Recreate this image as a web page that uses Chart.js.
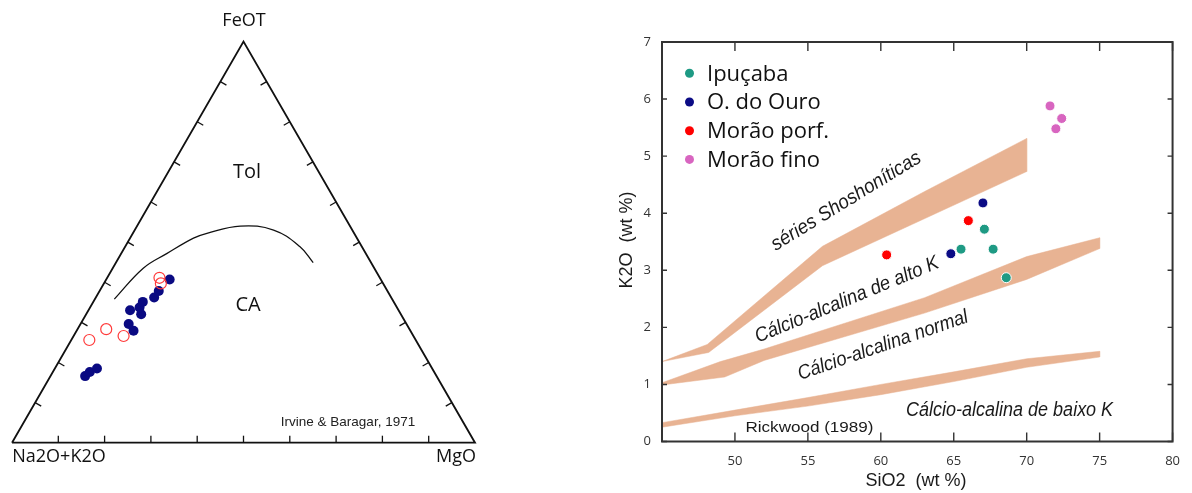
<!DOCTYPE html>
<html>
<head>
<meta charset="utf-8">
<script src="https://cdn.jsdelivr.net/npm/chart.js@4.4.0/dist/chart.umd.min.js"></script>
<style>
  html, body { margin: 0; padding: 0; background: #fff; }
  body { width: 1192px; height: 493px; position: relative; overflow: hidden; }
  #afm { position: absolute; left: 0; top: 0; }
  #harker { position: absolute; left: 600px; top: 0; }
</style>
</head>
<body>
<canvas id="afm" width="600" height="493"></canvas>
<canvas id="harker" width="592" height="493"></canvas>
<script>
// ---- Diagrama AFM (Irvine & Baragar, 1971) - valores em % ----
// A = Na2O+K2O, F = FeOT, M = MgO
const afmOuroA = [75.9, 74.4, 72.4, 59.8, 60.0, 56.1, 55.6, 54.2, 58.0, 51.2, 49.4, 45.6];
const afmOuroF = [16.6, 17.6, 18.5, 27.9, 29.6, 32.0, 33.7, 35.1, 33.0, 36.2, 37.8, 40.7];
const afmOuroM = [7.5, 8.0, 9.1, 12.3, 10.4, 11.9, 10.7, 10.7, 9.0, 12.6, 12.8, 13.7];

const afmMoraoA = [70.5, 65.5, 62.6, 47.6, 48.0];
const afmMoraoF = [25.6, 28.3, 26.6, 41.1, 39.7];
const afmMoraoM = [3.9, 6.2, 10.8, 11.3, 12.3];

// curva toleítica / cálcio-alcalina
const curvaA = [60.0, 49.9, 42.9, 35.3, 31.8, 23.7, 17.0, 13.4, 12.5];
const curvaF = [35.8, 43.5, 47.2, 51.0, 52.2, 54.0, 53.0, 48.9, 44.9];
const curvaM = [4.2, 6.6, 9.9, 13.7, 16.0, 22.3, 30.0, 37.7, 42.6];

// vértices do triângulo e marcas
const trianguloA = [100, 0, 0, 100];
const trianguloF = [0, 0, 100, 0];
const trianguloM = [0, 100, 0, 0];
const marcasTernario = [0.1, 0.2, 0.3, 0.4, 0.5, 0.6, 0.7, 0.8, 0.9];

// ---- Diagrama K2O x SiO2 (Rickwood, 1989) ----
const ipucabaSi = [65.5, 67.1, 67.7, 68.6];
const ipucabaK = [3.37, 3.72, 3.37, 2.87];
const ouroSi = [64.8, 67.0];
const ouroK = [3.29, 4.18];
const moraoPorfSi = [60.4, 66.0];
const moraoPorfK = [3.27, 3.87];
const moraoFinoSi = [71.6, 72.4, 72.0];
const moraoFinoK = [5.88, 5.66, 5.48];

// faixas de separação das séries
const shoSup = [[45, 1.40], [48.1, 1.70], [56, 3.42], [63, 4.38], [70, 5.31]];
const shoInf = [[45, 1.40], [48.2, 1.56], [56, 3.08], [70, 4.73]];
const altoKSup = [[45, 1.03], [49, 1.40], [52, 1.62], [63, 2.52], [70, 3.24], [75, 3.57]];
const altoKInf = [[45, 0.99], [49.3, 1.13], [52, 1.42], [63, 2.25], [70, 2.84], [75, 3.38]];
const baixoKSup = [[45, 0.33], [50, 0.55], [55, 0.77], [60, 1.00], [65, 1.22], [70, 1.45], [75, 1.58]];
const baixoKInf = [[45, 0.25], [50, 0.45], [55, 0.62], [60, 0.82], [65, 1.05], [70, 1.30], [75, 1.48]];

const ticksSi = [45, 50, 55, 60, 65, 70, 75, 80];
const ticksK = [0, 1, 2, 3, 4, 5, 6, 7];

const corFaixa = "#e8b393";
const R3 = Math.sqrt(3) / 2;

// converte A-F-M em coordenadas x,y do triângulo
function ternario(A, F, M) {
  return A.map((a, i) => {
    const s = a + F[i] + M[i];
    return { x: (M[i] + F[i] / 2) / s, y: (F[i] / s) * R3 };
  });
}

function pontos(xs, ys) {
  return xs.map((x, i) => ({ x: x, y: ys[i] }));
}

function faixa(sup, inf) {
  return sup.concat(inf.slice().reverse()).map(p => ({ x: p[0], y: p[1] }));
}

function textoAjustado(ctx, txt, cx, cy, ang, largura, fonte) {
  ctx.save();
  ctx.translate(cx, cy);
  ctx.rotate(-ang * Math.PI / 180);
  ctx.font = fonte;
  const w = ctx.measureText(txt).width;
  ctx.scale(largura / w, 1);
  ctx.textAlign = "center";
  ctx.textBaseline = "middle";
  ctx.fillText(txt, 0, 0);
  ctx.restore();
}

// marcas e textos do AFM
const afmDecor = {
  id: "afmDecor",
  afterDatasetsDraw(chart) {
    const { ctx, scales: { x, y } } = chart;
    const px = (a, f, m) => {
      const p = ternario([a], [f], [m])[0];
      return [x.getPixelForValue(p.x), y.getPixelForValue(p.y)];
    };
    ctx.save();
    ctx.strokeStyle = "#111";
    ctx.lineWidth = 1.3;
    const L = 7;
    marcasTernario.forEach(t => {
      // base (A-M)
      let [bx, by] = px(100 - t * 100, 0, t * 100);
      ctx.beginPath(); ctx.moveTo(bx, by); ctx.lineTo(bx, by - L); ctx.stroke();
      // lado esquerdo (A-F)
      [bx, by] = px(100 - t * 100, t * 100, 0);
      ctx.beginPath(); ctx.moveTo(bx, by); ctx.lineTo(bx + L * 0.866, by + L * 0.5); ctx.stroke();
      // lado direito (M-F)
      [bx, by] = px(0, t * 100, 100 - t * 100);
      ctx.beginPath(); ctx.moveTo(bx, by); ctx.lineTo(bx - L * 0.866, by + L * 0.5); ctx.stroke();
    });

    ctx.fillStyle = "#111";
    ctx.textAlign = "center";
    ctx.textBaseline = "middle";
    ctx.font = "18px 'Open Sans'";
    ctx.fillText("FeOT", 244, 21);
    ctx.fillText("Na2O+K2O", 59, 457);
    ctx.fillText("MgO", 456, 457);
    ctx.font = "20px 'Open Sans'";
    ctx.fillText("Tol", 247, 172);
    ctx.fillText("CA", 248, 305);
    ctx.fillStyle = "#222";
    ctx.font = "13.5px 'Liberation Sans'";
    ctx.fillText("Irvine & Baragar, 1971", 348, 422);
    ctx.restore();
  }
};

new Chart(document.getElementById("afm"), {
  type: "scatter",
  data: {
    datasets: [
      {
        label: "Morão porf.",
        data: ternario(afmMoraoA, afmMoraoF, afmMoraoM),
        pointRadius: 5.5,
        pointBackgroundColor: "rgba(255,255,255,0)",
        pointBorderColor: "#ff3b3b",
        pointBorderWidth: 1.2,
        clip: false
      },
      {
        label: "O. do Ouro",
        data: ternario(afmOuroA, afmOuroF, afmOuroM),
        pointRadius: 5,
        pointBackgroundColor: "#0a0a82",
        pointBorderWidth: 0,
        clip: false
      },
      {
        label: "curva",
        data: ternario(curvaA, curvaF, curvaM),
        showLine: true,
        borderColor: "#111",
        borderWidth: 1.3,
        pointRadius: 0,
        tension: 0.4,
        clip: false
      },
      {
        label: "triângulo",
        data: ternario(trianguloA, trianguloF, trianguloM),
        showLine: true,
        borderColor: "#111",
        borderWidth: 1.8,
        pointRadius: 0,
        clip: false
      }
    ]
  },
  options: {
    responsive: false,
    animation: false,
    devicePixelRatio: 1,
    layout: { padding: { left: 12, right: 125, top: 41.5, bottom: 50.3 } },
    scales: {
      x: { type: "linear", min: 0, max: 1, display: false },
      y: { type: "linear", min: 0, max: R3, display: false }
    },
    plugins: { legend: { display: false }, tooltip: { enabled: false } }
  },
  plugins: [afmDecor]
});

// moldura, marcas internas, legenda e textos do diagrama K2O x SiO2
const harkerDecor = {
  id: "harkerDecor",
  afterDatasetsDraw(chart) {
    const { ctx, chartArea: a, scales: { x, y } } = chart;
    ctx.save();
    ctx.strokeStyle = "#333";
    ctx.lineWidth = 1.4;
    ticksSi.forEach(v => {
      const p = x.getPixelForValue(v);
      ctx.beginPath();
      ctx.moveTo(p, a.bottom); ctx.lineTo(p, a.bottom - 9);
      ctx.moveTo(p, a.top); ctx.lineTo(p, a.top + 9);
      ctx.stroke();
    });
    ticksK.forEach(v => {
      const p = y.getPixelForValue(v);
      ctx.beginPath();
      ctx.moveTo(a.left, p); ctx.lineTo(a.left + 5, p);
      ctx.moveTo(a.right, p); ctx.lineTo(a.right - 5, p);
      ctx.stroke();
    });
    ctx.lineWidth = 2;
    ctx.strokeRect(a.left, a.top, a.right - a.left, a.bottom - a.top);

    // legenda
    const series = chart.data.datasets.filter(d => d.legenda);
    series.forEach((d, i) => {
      const yy = 73.3 + i * 28.7;
      ctx.beginPath();
      ctx.arc(89.5, yy, 4.5, 0, Math.PI * 2);
      ctx.fillStyle = d.pointBackgroundColor;
      ctx.fill();
      ctx.fillStyle = "#111";
      ctx.font = "22px 'Open Sans'";
      ctx.textAlign = "left";
      ctx.textBaseline = "middle";
      ctx.fillText(d.label, 107, yy + 1);
    });

    // nomes das séries
    ctx.fillStyle = "#1a1a1a";
    const it = "italic 20px 'Liberation Sans'";
    textoAjustado(ctx, "séries Shoshoníticas", x.getPixelForValue(57.63), y.getPixelForValue(4.21), 31.5, 172, it);
    textoAjustado(ctx, "Cálcio-alcalina de alto K", x.getPixelForValue(57.68), y.getPixelForValue(2.48), 22.5, 197, it);
    textoAjustado(ctx, "Cálcio-alcalina normal", x.getPixelForValue(60.15), y.getPixelForValue(1.68), 19, 179, it);
    textoAjustado(ctx, "Cálcio-alcalina de baixo K", x.getPixelForValue(68.83), y.getPixelForValue(0.55), 0, 207, it);
    textoAjustado(ctx, "Rickwood (1989)", x.getPixelForValue(55.11), y.getPixelForValue(0.24), 0, 128, "15px 'Liberation Sans'");

    // títulos dos eixos
    ctx.font = "18px 'Liberation Sans'";
    ctx.fillStyle = "#1a1a1a";
    ctx.textAlign = "center";
    ctx.textBaseline = "middle";
    ctx.fillText("SiO2  (wt %)", 316, 481);
    ctx.save();
    ctx.translate(27, 240);
    ctx.rotate(-Math.PI / 2);
    ctx.fillText("K2O  (wt %)", 0, 0);
    ctx.restore();
    ctx.restore();
  }
};

function serie(label, dados, cor) {
  return {
    label: label,
    legenda: true,
    data: dados,
    pointRadius: 5,
    pointBackgroundColor: cor,
    pointBorderColor: "#fff",
    pointBorderWidth: 1,
    order: 0
  };
}

function faixaDs(dados) {
  return {
    label: "faixa",
    data: dados,
    showLine: true,
    fill: "shape",
    backgroundColor: corFaixa,
    borderColor: corFaixa,
    borderWidth: 0.5,
    pointRadius: 0,
    order: 1
  };
}

new Chart(document.getElementById("harker"), {
  type: "scatter",
  data: {
    datasets: [
      serie("Ipuçaba", pontos(ipucabaSi, ipucabaK), "#1e9a84"),
      serie("O. do Ouro", pontos(ouroSi, ouroK), "#0b0b85"),
      serie("Morão porf.", pontos(moraoPorfSi, moraoPorfK), "#ff0000"),
      serie("Morão fino", pontos(moraoFinoSi, moraoFinoK), "#d865c0"),
      faixaDs(faixa(shoSup, shoInf)),
      faixaDs(faixa(altoKSup, altoKInf)),
      faixaDs(faixa(baixoKSup, baixoKInf))
    ]
  },
  options: {
    responsive: false,
    animation: false,
    devicePixelRatio: 1,
    layout: { padding: { left: 0, right: 9, top: 42, bottom: 0 } },
    plugins: { legend: { display: false }, tooltip: { enabled: false } },
    scales: {
      x: {
        type: "linear", min: 45, max: 80,
        grid: { display: false, drawTicks: false },
        border: { display: false },
        afterBuildTicks: s => { s.ticks = ticksSi.map(v => ({ value: v })); },
        ticks: {
          padding: 12, color: "#333",
          font: { family: "'Open Sans'", size: 13 },
          callback: v => (v === 45 ? "" : v)
        },
        afterFit: s => { s.height = 51.5; }
      },
      y: {
        type: "linear", min: 0, max: 7,
        grid: { display: false, drawTicks: false },
        border: { display: false },
        afterBuildTicks: s => { s.ticks = ticksK.map(v => ({ value: v })); },
        ticks: { padding: 11, color: "#333", font: { family: "'Open Sans'", size: 13 } },
        afterFit: s => { s.width = 62; }
      }
    }
  },
  plugins: [harkerDecor]
});
</script>
</body>
</html>
